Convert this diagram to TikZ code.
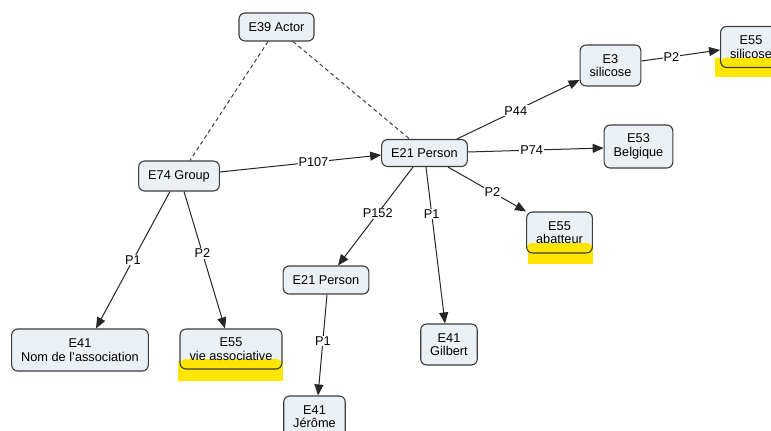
\documentclass[tikz,border=0pt]{standalone}
\usepackage{fontspec}
\setmainfont{Liberation Sans}
\usetikzlibrary{arrows.meta,backgrounds}
\definecolor{boxfill}{HTML}{EAF0F4}
\definecolor{boxline}{HTML}{3C3C3C}
\definecolor{hl}{HTML}{FFE600}
\tikzset{
  concept/.style={draw=boxline, fill=boxfill, line width=1.1pt, rounded corners=6pt,
    inner xsep=9.5pt, inner ysep=3pt, minimum height=28pt, align=center,
    font=\fontsize{12.75}{13.5}\selectfont},
  twoline/.style={minimum height=41pt},
  lbl/.style={fill=white, inner sep=1pt, text=black, font=\fontsize{12.75}{13.5}\selectfont},
  rel/.style={line width=1pt, draw=black!85, -{Triangle[length=11pt,width=9pt]}},
  isa/.style={line width=1pt, draw=black!75, dash pattern=on 4pt off 3pt},
  marked/.style={path picture={\fill[hl] ([yshift=10pt]path picture bounding box.south west) rectangle (path picture bounding box.south east);}}
}
\begin{document}
\begin{tikzpicture}[x=1pt,y=-1pt]
\useasboundingbox (0,0) rectangle (771,431);
\clip (0,0) rectangle (771,431);

\node[concept] (actor) at (276.5,27) {E39 Actor};
\node[concept, minimum height=30pt] (group) at (179,176) {E74 Group};
\node[concept, minimum height=27pt] (person) at (424.5,153) {E21 Person};
\node[concept, twoline] (sil) at (610.5,65.5) {E3\\silicose};
\node[concept, twoline, marked] (silt) at (751,47) {E55\\silicose};
\node[concept, twoline, minimum height=43pt] (bel) at (638.5,146.5) {E53\\Belgique};
\node[concept, twoline, marked] (aba) at (559.5,232.5) {E55\\abatteur};
\node[concept] (personb) at (326,280) {E21 Person};
\node[concept, twoline] (gil) at (449,344.5) {E41\\Gilbert};
\node[concept, twoline, minimum height=42pt] (nom) at (80,350) {E41\\Nom de l\char"27association};
\node[concept, twoline, minimum height=40pt, marked] (vie) at (231,349) {E55\\vie associative};
\node[concept, twoline] (jer) at (314.5,416.5) {E41\\Jérôme};

\begin{scope}[on background layer]
  \fill[white] (0,0) rectangle (771,431);
  \fill[hl] ([xshift=-1pt,yshift=9pt]vie.south west) rectangle ([yshift=-11pt]vie.south east);
  \fill[hl] ([xshift=2pt,yshift=10pt]aba.south west) rectangle ([yshift=-10pt]aba.south east);
  \fill[hl] ([xshift=-5pt,yshift=10pt]silt.south west) rectangle ([yshift=-9pt]silt.south east);
\end{scope}

\draw[isa] ([xshift=-8.5pt]actor.south) -- ([xshift=11pt]group.north);
\draw[isa] ([xshift=16.5pt]actor.south) -- ([xshift=-15pt]person.north);

\draw[rel] ([yshift=4pt]group.east) -- node[lbl, pos=0.58] {P107} ([yshift=-2pt]person.west);
\draw[rel] ([xshift=32.5pt]person.north) -- node[lbl, pos=0.48] {P44} ([yshift=-14.5pt]sil.west);
\draw[rel] ([yshift=4.5pt]sil.east) -- node[lbl, pos=0.38] {P2} ([yshift=-3pt]silt.west);
\draw[rel] ([yshift=1pt]person.east) -- node[lbl, pos=0.47] {P74} ([yshift=-1.5pt]bel.west);
\draw[rel] ([xshift=23.5pt]person.south) -- node[lbl, pos=0.57] {P2} (aba.north west);
\draw[rel] ([xshift=-11.5pt]person.south) -- node[lbl, pos=0.47] {P152} ([xshift=12pt]personb.north);
\draw[rel] ([xshift=1.5pt]person.south) -- node[lbl, pos=0.30] {P1} ([xshift=-4pt]gil.north);
\draw[rel] ([xshift=-9pt]group.south) -- node[lbl, pos=0.50] {P1} ([xshift=16pt]nom.north);
\draw[rel] ([xshift=5pt]group.south) -- node[lbl, pos=0.45] {P2} ([xshift=-6pt]vie.north);
\draw[rel] ([xshift=1pt]personb.south) -- node[lbl, pos=0.46] {P1} ([xshift=3.5pt]jer.north);
\end{tikzpicture}
\end{document}
